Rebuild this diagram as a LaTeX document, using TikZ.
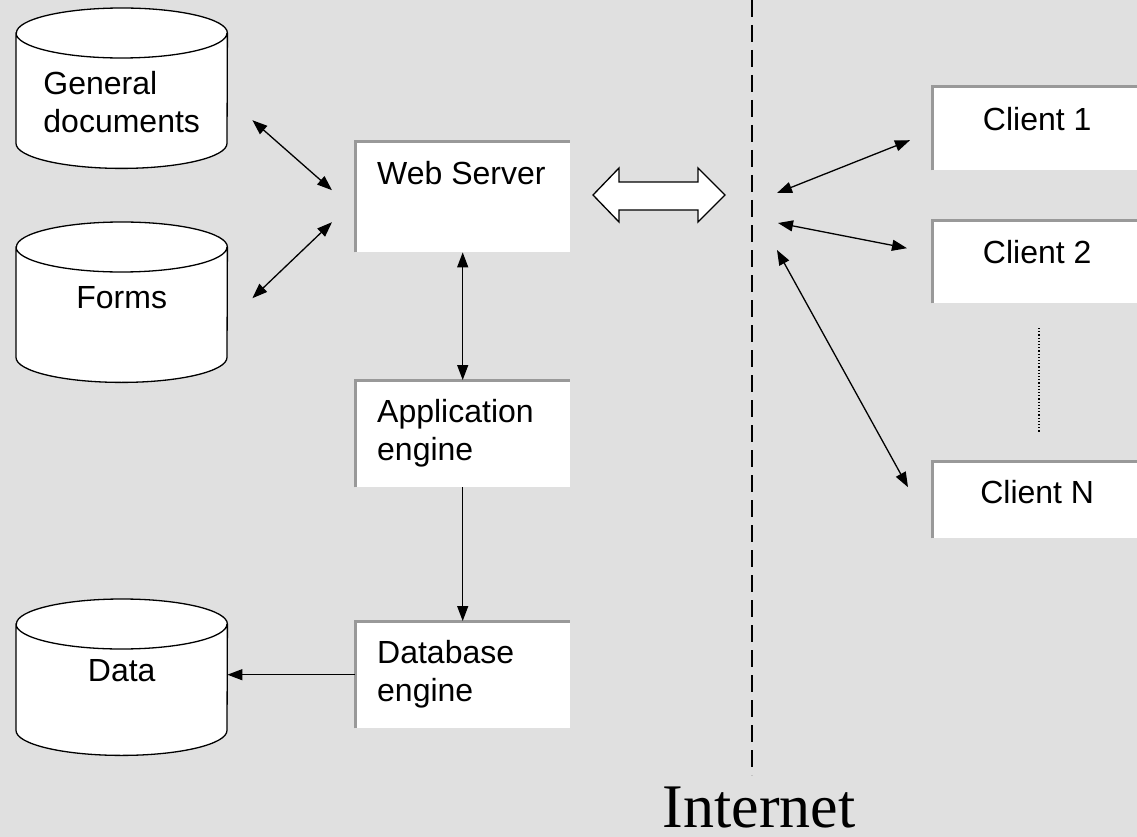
\documentclass[tikz,border=0pt]{standalone}
\usepackage{fontspec}
\setmainfont{Liberation Sans}
\newfontfamily\inetfont{Liberation Serif}
\usetikzlibrary{arrows.meta,backgrounds}
\definecolor{bgGray}{gray}{0.88}
\definecolor{rimGray}{gray}{0.6}
\tikzset{
    store/.style={anchor=north west, inner sep=0pt, minimum width=211pt, text height=86pt, text depth=74pt, font=\fontsize{32}{38}\selectfont},
    cyl/.style={draw, line width=1.3pt, fill=white},
    box/.style={anchor=north west, fill=white, inner xsep=22pt, inner ysep=0pt, text height=42pt, font=\fontsize{32}{38}\selectfont},
    client/.style={anchor=north west, fill=white, inner sep=0pt, minimum width=210pt, text height=43pt, text depth=40pt, font=\fontsize{32}{38}\selectfont},
    rim/.style={line width=3pt, rimGray},
    lnk/.style={line width=1.3pt, {Triangle[length=15pt,width=11pt]}-{Triangle[length=15pt,width=11pt]}},
    onelnk/.style={line width=1.3pt, -{Triangle[length=15pt,width=11pt]}}
}
\begin{document}
\begin{tikzpicture}[x=1pt,y=-1pt]
\useasboundingbox (0,0) rectangle (1137,837);
\node[store] (gd) at (16,8) {\begin{tabular}[t]{@{}l@{}}General\\documents\end{tabular}};
\node[store] (fm) at (16,222) {Forms};
\node[store, text height=82pt] (dt) at (16,599) {Data};
\node[box, text depth=68pt] (ws) at (355,142) {\parbox[t]{171pt}{Web Server}};
\node[box, text depth=65pt] (ae) at (355,380) {\parbox[t]{171pt}{Application\\engine}};
\node[box, text depth=65pt] (de) at (355,621) {\parbox[t]{171pt}{Database\\engine}};
\node[client] (c1) at (932,87) {Client 1};
\node[client] (c2) at (932,220) {Client 2};
\node[client, text height=42pt, text depth=35pt] (cn) at (932,461) {Client N};
\foreach \n in {ws,ae,de,c1,c2,cn}
    \draw[rim] (\n.south west) |- (\n.north east);
\draw[lnk] ([shift={(25pt,-32pt)}]gd.east) -- ([shift={(-23pt,7pt)}]ws.west);
\draw[lnk] ([shift={(25pt,4pt)}]fm.east) -- ([shift={(-23pt,-25pt)}]ws.west);
\draw[lnk] (ws.south) -- (ae.north);
\draw[onelnk] (ae.south) -- (de.north);
\draw[onelnk] (de.west) -- (de.west -| dt.east);
\draw[line width=1.3pt, fill=white] (593,195) -- (619,168) -- (619,182) -- (698,182) -- (698,168) -- (725,195) -- (698,222) -- (698,210) -- (619,210) -- (619,222) -- cycle;
\draw[line width=1.3pt, dash pattern=on 17pt off 8pt] (752,0) -- (752,775);
\coordinate (p1) at (777,193);
\coordinate (p2) at (778,223);
\coordinate (p3) at (777,250);
\draw[lnk] (p1) -- ([shift={(-22pt,-11.5pt)}]c1.west);
\draw[lnk] (p2) -- ([shift={(-25pt,13.5pt)}]c2.west);
\draw[lnk] (p3) -- ([shift={(-24pt,12.5pt)}]cn.west);
\draw[line width=1.2pt, dash pattern=on 1.2pt off 2pt] (1039,328) -- (1039,433);
\node[font=\inetfont\fontsize{62}{68}\selectfont, anchor=base, inner sep=0pt] (inet) at (759,827) {Internet};
\begin{scope}[on background layer]
\fill[bgGray] (0,0) rectangle (1137,837);
\foreach \n in {gd,fm,dt}
    \draw[cyl] ([yshift=-25pt]\n.north west) -- ([yshift=25pt]\n.south west) arc[start angle=180, end angle=360, x radius=105.5pt, y radius=25pt] -- ([yshift=-25pt]\n.north east) arc[start angle=0, end angle=180, x radius=105.5pt, y radius=25pt] -- cycle ([yshift=-25pt]\n.north west) arc[start angle=180, end angle=360, x radius=105.5pt, y radius=25pt];
\end{scope}
\end{tikzpicture}
\end{document}
